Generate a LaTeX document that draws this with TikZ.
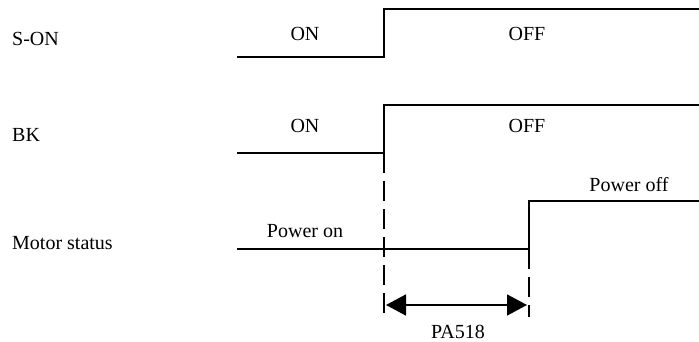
\documentclass[tikz,border=0pt]{standalone}
\usepackage{fontspec}
\setmainfont{Liberation Serif}
\usetikzlibrary{arrows.meta}

\begin{document}
\begin{tikzpicture}[x=1pt, y=-1pt,
    wave/.style={line width=1.7pt},
    guide/.style={line width=1.7pt, dash pattern=on 20pt off 8pt},
    lbl/.style={font=\fontsize{20}{24}\selectfont, inner sep=0pt, anchor=base},
    sig/.style={lbl, anchor=base west}]
    \useasboundingbox (0,0) rectangle (699,342);

    % --- Signal names (left column) ---
    \node[sig] (son)   at (12, 46)  {S-ON};
    \node[sig] (bk)    at (12, 142) {BK};
    \node[sig] (motor) at (12, 249) {Motor status};

    % --- S-ON waveform ---
    \coordinate (sonA) at (237, 57);
    \coordinate (sonB) at (384, 57);
    \coordinate (sonC) at (384, 9);
    \coordinate (sonD) at (699, 9);
    \draw[wave] (sonA) -- (sonB) -- (sonC) -- (sonD);
    \node[lbl] (sonOn)  at (305, 41) {ON};
    \node[lbl] (sonOff) at (527, 41) {OFF};

    % --- BK waveform ---
    \coordinate (bkA) at (237, 153);
    \coordinate (bkB) at (384, 153);
    \coordinate (bkC) at (384, 105);
    \coordinate (bkD) at (699, 105);
    \draw[wave] (bkA) -- (bkB) -- (bkC) -- (bkD);
    \node[lbl] (bkOn)  at (305, 133) {ON};
    \node[lbl] (bkOff) at (527, 133) {OFF};

    % --- Motor status waveform ---
    \coordinate (motA) at (237, 249);
    \coordinate (motB) at (529, 249);
    \coordinate (motC) at (529, 201);
    \coordinate (motD) at (699, 201);
    \draw[wave] (motA) -- (motB) -- (motC) -- (motD);
    \node[lbl] (motOn)  at (305, 237) {Power on};
    \node[lbl] (motOff) at (629, 191) {Power off};

    % --- Delay marks ---
    \coordinate (delayA) at (384, 317);
    \coordinate (delayB) at (529, 317);
    \draw[guide] (bkB) -- (delayA);
    \draw[guide] (motB) -- (delayB);
    \draw[wave, {Triangle[length=20pt, width=21pt]}-{Triangle[length=20pt, width=21pt]}]
      ([xshift=2pt, yshift=12pt]delayA) -- ([xshift=-2pt, yshift=12pt]delayB);
    \node[lbl] (pa) at (458, 338) {PA518};

\end{tikzpicture}
\end{document}
